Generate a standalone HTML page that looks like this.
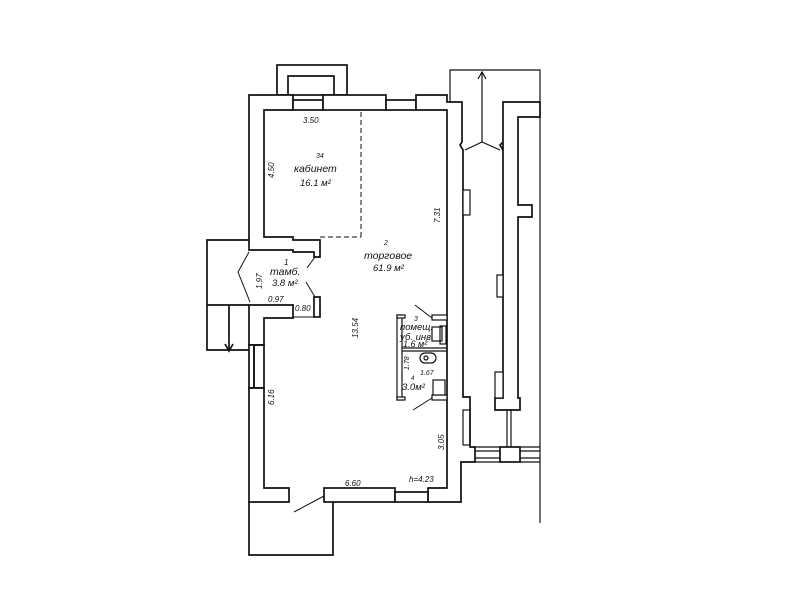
<!DOCTYPE html>
<html><head><meta charset="utf-8"><style>
html,body{margin:0;padding:0;background:#fff;}
svg{display:block;}
text{font-family:"Liberation Sans",sans-serif;font-style:italic;fill:#111;}
</style></head><body>
<svg width="800" height="600" viewBox="0 0 800 600" xmlns="http://www.w3.org/2000/svg">
<g fill="#fff" stroke="#111" stroke-width="1.7" stroke-linejoin="miter">
<rect x="277" y="65" width="70" height="30"/>
<polyline points="288,95 288,76 334,76 334,95" fill="none"/>
<polyline points="249,502 249,555 333,555 333,502" fill="none"/>
<polyline points="249,240 207,240 207,350 249,350" fill="none"/>
<line x1="207" y1="305" x2="249" y2="305"/>
<line x1="229" y1="305" x2="229" y2="350"/>
<polyline points="225,344 229,351 233,344" fill="none"/>
<polyline points="450,102 450,70 540,70 540,523" fill="none" stroke-width="1.2"/>
<line x1="482" y1="142" x2="482" y2="72" stroke-width="1.2"/>
<polyline points="478,79 482,72 486,79" fill="none" stroke-width="1.2"/>

<!-- upper-left wall -->
<polygon points="249,95 293,95 293,110 264,110 264,237 293,237 293,240 320,240 320,257 314,257 314,252 293,252 293,250 249,250"/>
<rect x="293" y="100" width="30" height="10"/>
<rect x="323" y="95" width="63" height="15"/>
<rect x="386" y="100" width="30" height="10"/>
<!-- right main wall -->
<polygon points="416,95 447,95 447,102 462,102 462,142 460,145 463,150 463,397 470,397 470,447 475,447 475,462 461,462 461,502 428,502 428,488 447,488 447,110 416,110"/>
<!-- lower-left -->
<polygon points="249,305 293,305 293,318 264,318 264,345 249,345"/>
<rect x="314" y="297" width="6" height="20"/>
<rect x="249" y="345" width="5" height="43"/>
<rect x="254" y="345" width="10" height="43" fill="none"/>
<polygon points="249,388 264,388 264,488 289,488 289,502 249,502"/>
<rect x="324" y="488" width="71" height="14"/>
<rect x="395" y="492" width="33" height="10"/>
<!-- corridor right wall -->
<polygon points="503,102 540,102 540,117 518,117 518,205 532,205 532,217 518,217 518,398 520,398 520,410 495,410 495,398 503,398 503,142 500,145 503,150"/>
<rect x="500" y="447" width="20" height="15"/>
</g>
<g stroke="#111" stroke-width="1.2" fill="#fff">
<line x1="475" y1="451" x2="500" y2="451"/><line x1="475" y1="458" x2="500" y2="458"/>
<line x1="520" y1="451" x2="540" y2="451"/><line x1="520" y1="458" x2="540" y2="458"/>
<line x1="475" y1="447" x2="500" y2="447"/><line x1="475" y1="462" x2="500" y2="462"/>
<line x1="520" y1="447" x2="540" y2="447"/><line x1="520" y1="462" x2="540" y2="462"/>
<line x1="507" y1="410" x2="507" y2="447"/><line x1="511" y1="410" x2="511" y2="447"/>
<rect x="463" y="190" width="7" height="25"/>
<rect x="497" y="275" width="6" height="22"/>
<rect x="495" y="372" width="8" height="26"/>
<rect x="463" y="410" width="7" height="35" fill="none"/>
<polyline points="465,150 482,142 500,150" fill="none"/>
<rect x="397" y="315" width="5" height="85"/>
<rect x="397" y="315" width="8" height="3"/>
<rect x="397" y="397" width="8" height="3"/>
<rect x="432" y="315" width="15" height="5"/>
<rect x="432" y="395" width="15" height="5"/>
<line x1="402" y1="348" x2="447" y2="348"/><line x1="402" y1="351" x2="447" y2="351"/>
<rect x="432" y="327" width="10" height="14"/>
<rect x="433" y="380" width="12" height="15"/>
<rect x="420" y="353" width="16" height="10" rx="5"/>
<circle cx="426" cy="358" r="2"/>
<rect x="440" y="326" width="6" height="18" fill="none"/>
</g>
<g stroke="#111" stroke-width="1" fill="none">
<polyline points="249,252 238,272 250,302"/>
<line x1="315" y1="257" x2="307" y2="268"/>
<line x1="306" y1="282" x2="315" y2="297"/>
<line x1="415" y1="305" x2="432" y2="318"/>
<line x1="413" y1="410" x2="432" y2="398"/>
<line x1="324" y1="496" x2="294" y2="512"/>
<line x1="361" y1="112" x2="361" y2="237" stroke-dasharray="5,3"/>
<line x1="320" y1="237" x2="361" y2="237" stroke-dasharray="5,3"/>
<line x1="293" y1="317" x2="314" y2="317"/>
</g>
<g font-size="8">
<text x="303" y="123">3.50</text>
<text x="316" y="158" font-size="7">34</text>
<text x="294" y="172" font-size="10.5">кабинет</text>
<text x="300" y="186" font-size="9.5">16.1 м²</text>
<text transform="translate(274,178) rotate(-90)">4.50</text>
<text transform="translate(440,223) rotate(-90)">7.31</text>
<text x="384" y="245" font-size="7">2</text>
<text x="364" y="259" font-size="10.5">торговое</text>
<text x="373" y="271" font-size="9.5">61.9 м²</text>
<text x="284" y="265" font-size="8">1</text>
<text x="270" y="275" font-size="10.5">тамб.</text>
<text x="272" y="286" font-size="9.5">3.8 м²</text>
<text transform="translate(262,289) rotate(-90)">1.97</text>
<text x="268" y="302">0.97</text>
<text x="295" y="311">0.80</text>
<text transform="translate(358,338) rotate(-90)">13.54</text>
<text x="414" y="321" font-size="7">3</text>
<text x="400" y="330" font-size="9.5">помещ.</text>
<text x="400" y="340" font-size="9.5">уб. инв.</text>
<text x="403" y="347" font-size="9">1.6 м²</text>
<text transform="translate(409,370) rotate(-90)" font-size="7">1.78</text>
<text x="420" y="375" font-size="7">1.67</text>
<text x="411" y="380" font-size="6">4</text>
<text x="402" y="390" font-size="9.5">3.0м²</text>
<text transform="translate(274,405) rotate(-90)">6.16</text>
<text transform="translate(444,450) rotate(-90)">3.05</text>
<text x="345" y="486">6.60</text>
<text x="409" y="482">h=4.23</text>
</g>
</svg>
</body></html>
